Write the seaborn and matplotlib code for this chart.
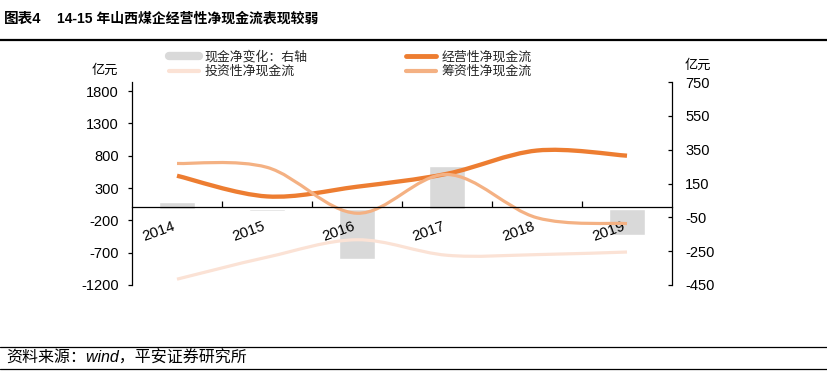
import numpy as np
import pandas as pd
import matplotlib
matplotlib.use('Agg')
import matplotlib.pyplot as plt
from matplotlib.path import Path
from matplotlib.patches import PathPatch
from matplotlib.lines import Line2D
import seaborn as sns

# values (亿元)
years = ['2014', '2015', '2016', '2017', '2018', '2019']
cash_change = [40, -15, -295, 255, 0, -155]          # 现金净变化（右轴）
operating = [490, 170, 320, 520, 880, 800]            # 经营性净现金流
investing = [-1110, -770, -500, -740, -730, -690]     # 投资性净现金流
financing = [680, 620, -90, 510, -160, -250]          # 筹资性净现金流

left_ticks = [-1200, -700, -200, 300, 800, 1300, 1800]
right_ticks = [-450, -250, -50, 150, 350, 550, 750]

c_bar = '#D9D9D9'
c_oper = '#ED7D31'
c_inv = '#FBE2D5'
c_fin = '#F4B183'

sns.set_theme(style='white')
plt.rcParams['font.family'] = ['Liberation Sans', 'Noto Sans CJK SC']
plt.rcParams['axes.unicode_minus'] = False


def smooth_path(ys):
    # Excel-style smoothed line through the data points (cubic bezier)
    pts = np.column_stack([np.arange(len(ys)), ys]).astype(float)
    ext = np.vstack([pts[0], pts, pts[-1]])
    verts = [pts[0]]
    codes = [Path.MOVETO]
    for i in range(len(pts) - 1):
        p0, p1, p2, p3 = ext[i], ext[i + 1], ext[i + 2], ext[i + 3]
        verts += [p1 + (p2 - p0) / 6, p2 - (p3 - p1) / 6, p2]
        codes += [Path.CURVE4] * 3
    return Path(verts, codes)


fig = plt.figure(figsize=(8.27, 3.75), dpi=100)
ax = fig.add_axes([132 / 827, 1 - 285 / 375, 540 / 827, 203 / 375])
ax2 = ax.twinx()

# bars on the right axis, drawn behind the lines
df = pd.DataFrame({'year': years, 'cash': cash_change})
sns.barplot(data=df, x='year', y='cash', order=years, color=c_bar,
            saturation=1, width=0.4, ax=ax2)
ax2.set_ylim(-450, 750)
ax2.set_yticks(right_ticks)
ax2.set_ylabel('')
ax2.set_xlabel('')

ax.set_zorder(ax2.get_zorder() + 1)
ax.patch.set_visible(False)

for ys, col, lw in [(operating, c_oper, 3.1), (investing, c_inv, 2.3), (financing, c_fin, 2.3)]:
    ax.add_patch(PathPatch(smooth_path(ys), facecolor='none', edgecolor=col,
                           lw=lw, capstyle='butt'))

ax.set_xlim(-0.5, 5.5)
ax.set_ylim(-1200, 1940)
ax.set_yticks(left_ticks)
ax.set_xticks(range(len(years)))
ax.set_xticklabels(years)
ax.set_xticks([0.5, 1.5, 2.5, 3.5, 4.5], minor=True)

ax.spines['bottom'].set_position(('data', 0))
for s in ['top', 'right']:
    ax.spines[s].set_visible(False)
for s in ['top', 'bottom', 'left']:
    ax2.spines[s].set_visible(False)
for s in [ax.spines['left'], ax.spines['bottom'], ax2.spines['right']]:
    s.set_color('black')
    s.set_linewidth(0.9)

ax.tick_params(axis='x', which='major', bottom=True, length=0, pad=8.5,
               labelsize=10.8, labelcolor='black', labelrotation=20)
ax.tick_params(axis='x', which='minor', bottom=True, direction='in',
               length=4, width=0.9, color='black')
ax.tick_params(axis='y', left=True, direction='out', length=3, width=0.9,
               pad=6.5, labelsize=10.5, color='black', labelcolor='black')
ax2.tick_params(axis='y', right=True, direction='in', length=3, width=0.9,
                pad=9.5, labelsize=10.5, color='black', labelcolor='black')

# legend
handles = [Line2D([], [], color=c_bar, lw=6),
           Line2D([], [], color=c_inv, lw=3),
           Line2D([], [], color=c_oper, lw=3.5),
           Line2D([], [], color=c_fin, lw=3)]
labels = ['现金净变化：右轴', '投资性净现金流', '经营性净现金流', '筹资性净现金流']
fig.legend(handles, labels, ncol=2, loc='upper left',
           bbox_to_anchor=(169 / 827, 1 - 51 / 375), frameon=False,
           fontsize=9.3, handlelength=2.35, handletextpad=0.4,
           columnspacing=7.6, labelspacing=0.15, borderpad=0, borderaxespad=0)

# unit labels
fig.text(92 / 827, 1 - 71 / 375, '亿元', fontsize=9.5, va='center', color='black')
fig.text(685 / 827, 1 - 66 / 375, '亿元', fontsize=9.5, va='center', color='black')

# title, source and rules
fig.text(4 / 827, 1 - 18.5 / 375, '图表4', fontsize=10.5, fontweight='bold',
         va='center', color='black')
fig.text(57 / 827, 1 - 18.5 / 375, '14-15 年山西煤企经营性净现金流表现较弱',
         fontsize=10, fontweight='bold', va='center', color='black')
fig.text(6 / 827, 1 - 358 / 375, '资料来源：wind，平安证券研究所', fontsize=11.5,
         style='italic', va='center', color='black')

for y, lw in [(39.5, 1.6), (347, 0.9), (369, 0.9)]:
    fig.add_artist(Line2D([0, 1], [1 - y / 375] * 2, transform=fig.transFigure,
                          color='black', lw=lw))

# rotated year labels, right-aligned to the category centre
for lbl in ax.get_xticklabels():
    lbl.set_rotation(20)
    lbl.set_horizontalalignment('right')

fig.savefig('out.png', dpi=100)
